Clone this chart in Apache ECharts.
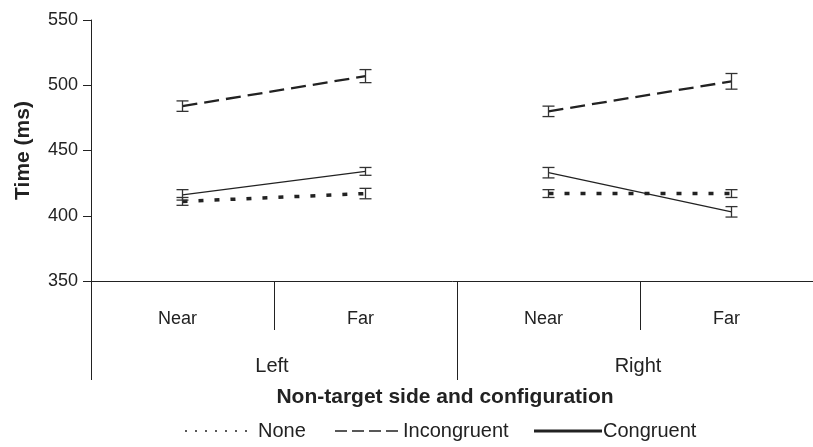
<!DOCTYPE html>
<html>
<head>
<meta charset="utf-8">
<script src="https://cdn.jsdelivr.net/npm/echarts@6/dist/echarts.min.js"></script>
<style>
html,body{margin:0;padding:0;background:#fff;}
#c{width:813px;height:447px;}
</style>
</head>
<body>
<div id="c"></div>
<script>
// ---- data ----
const categories = ['Near', 'Far', 'Near', 'Far'];
const sides = ['Left', 'Right'];
const seriesNames = ['None', 'Incongruent', 'Congruent'];
const noneValues = [411, 417, 417, 417];
const noneErr = [3, 4, 3, 3];
const incongruentValues = [484, 507, 480, 503];
const incongruentErr = [4, 5, 4, 6];
const congruentValues = [416, 434, 433, 403];
const congruentErr = [4, 3, 4, 4];
const yTicks = [350, 400, 450, 500, 550];
const yTitle = 'Time (ms)';
const xTitle = 'Non-target side and configuration';

const FONT = '"Liberation Sans", Arial, sans-serif';
const INK = '#222';

function errData(vals, errs) {
  return vals.map((v, i) => [i, v - errs[i], v + errs[i]]);
}
function errRender(params, api) {
  const x = api.value(0), lo = api.value(1), hi = api.value(2);
  const p1 = api.coord([x, lo]), p2 = api.coord([x, hi]);
  const w = 6;
  const st = { stroke: '#333', lineWidth: 1.3 };
  return {
    type: 'group',
    children: [
      { type: 'line', shape: { x1: p1[0], y1: p1[1], x2: p2[0], y2: p2[1] }, style: st },
      { type: 'line', shape: { x1: p1[0] - w, y1: p1[1], x2: p1[0] + w, y2: p1[1] }, style: st },
      { type: 'line', shape: { x1: p2[0] - w, y1: p2[1], x2: p2[0] + w, y2: p2[1] }, style: st }
    ]
  };
}
// keep only the two points belonging to one side (0 = Left, 1 = Right)
function sideData(vals, side) {
  return vals.map((v, i) => (Math.floor(i / 2) === side ? v : null));
}

const lineStyles = [
  { color: INK, width: 3.5, type: [5, 11] },
  { color: INK, width: 2.3, type: [15, 7] },
  { color: INK, width: 1.3, type: 'solid' }
];
const valueSets = [noneValues, incongruentValues, congruentValues];
const errSets = [noneErr, incongruentErr, congruentErr];

const series = [];
seriesNames.forEach((name, k) => {
  [0, 1].forEach(side => {
    series.push({
      name: name, type: 'line', xAxisIndex: 0, yAxisIndex: 0,
      data: sideData(valueSets[k], side), symbol: 'none', silent: true,
      connectNulls: false, lineStyle: lineStyles[k], z: 3
    });
  });
  series.push({
    name: name + ' error', type: 'custom', xAxisIndex: 0, yAxisIndex: 0,
    data: errData(valueSets[k], errSets[k]), renderItem: errRender, z: 4, silent: true
  });
});

// legend drawn as graphic (line samples + text)
const legendY = 431;
const legendItems = [
  { x1: 185, x2: 247, tx: 258, dash: [2, 8], w: 1.5 },
  { x1: 335, x2: 400, tx: 403, dash: [12, 5], w: 1.5 },
  { x1: 534, x2: 602, tx: 603, dash: null, w: 3 }
];
const graphic = [];
legendItems.forEach((it, k) => {
  graphic.push({
    type: 'line', shape: { x1: it.x1, y1: legendY, x2: it.x2, y2: legendY },
    style: { stroke: INK, lineWidth: it.w, lineDash: it.dash }
  });
  graphic.push({
    type: 'text', x: it.tx, y: legendY,
    style: { text: seriesNames[k], fill: INK, font: '20px ' + FONT, textVerticalAlign: 'middle', textAlign: 'left' }
  });
});

const chart = echarts.init(document.getElementById('c'), null, { renderer: 'canvas' });
chart.setOption({
  animation: false,
  backgroundColor: '#fff',
  textStyle: { fontFamily: FONT, color: INK },
  grid: { left: 91, top: 20, height: 261, width: 732, containLabel: false, outerBoundsMode: 'none' },
  xAxis: [
    {
      type: 'category', data: categories, position: 'bottom', boundaryGap: true,
      axisLine: { show: true, lineStyle: { color: INK, width: 1 } },
      axisTick: { show: true, length: 49, interval: 0, alignWithLabel: false, lineStyle: { color: INK, width: 1 } },
      axisLabel: { interval: 0, margin: 29, fontSize: 18, color: INK, fontFamily: FONT, padding: [0, 10, 0, 0] },
      splitLine: { show: false }
    },
    {
      type: 'category', data: sides, position: 'bottom', boundaryGap: true,
      axisLine: { show: false },
      axisTick: { show: true, length: 99, interval: 0, lineStyle: { color: INK, width: 1 } },
      axisLabel: { interval: 0, margin: 75, fontSize: 20, color: INK, fontFamily: FONT, padding: [0, 4, 0, 0] },
      name: xTitle, nameLocation: 'middle', nameGap: 106,
      nameTextStyle: { fontSize: 21, fontWeight: 'bold', color: INK, fontFamily: FONT, padding: [0, 24, 0, 0] },
      splitLine: { show: false }
    }
  ],
  yAxis: {
    type: 'value', min: yTicks[0], max: yTicks[yTicks.length - 1], interval: 50,
    axisLine: { show: true, lineStyle: { color: INK, width: 1 } },
    axisTick: { show: true, length: 8, lineStyle: { color: INK, width: 1 } },
    axisLabel: { margin: 13, fontSize: 18, color: INK, fontFamily: FONT },
    splitLine: { show: false },
    name: yTitle, nameLocation: 'middle', nameGap: 57,
    nameTextStyle: { fontSize: 21, fontWeight: 'bold', color: INK, fontFamily: FONT }
  },
  series: series,
  graphic: graphic
});
</script>
</body>
</html>
